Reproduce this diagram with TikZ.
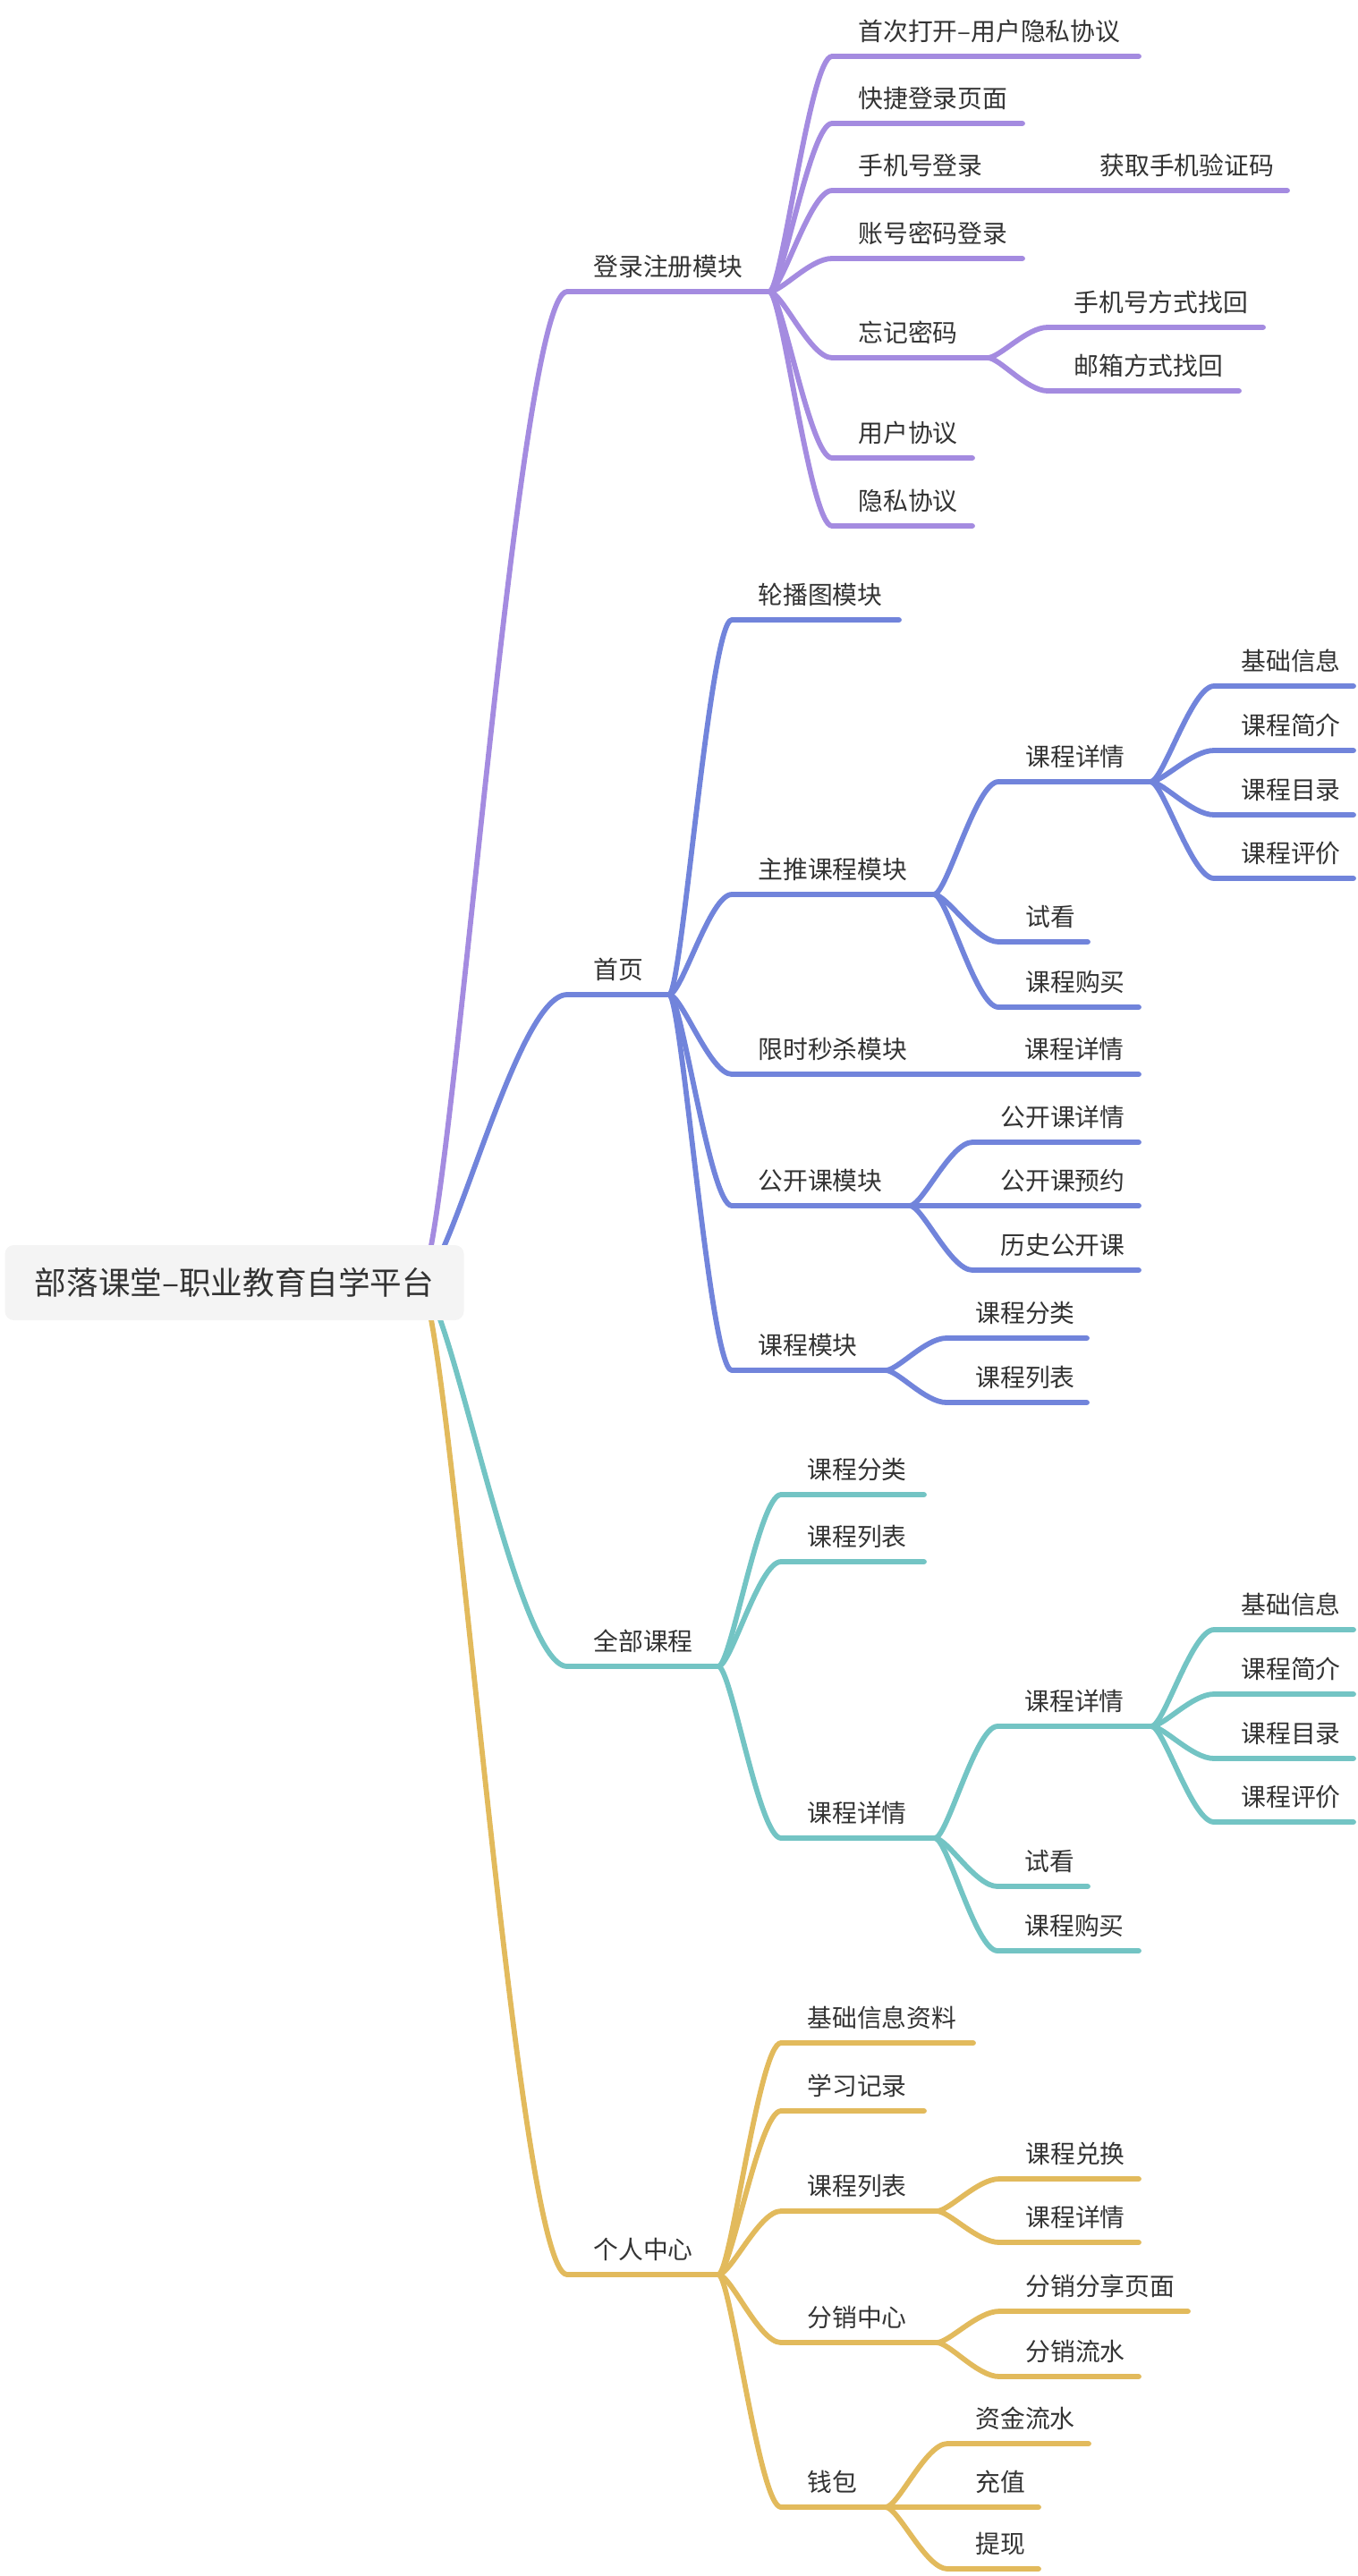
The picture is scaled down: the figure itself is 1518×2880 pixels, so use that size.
\documentclass[tikz,border=0pt]{standalone}
\usepackage{fontspec}
\setmainfont{Noto Sans CJK SC}
\usetikzlibrary{calc,backgrounds}
\definecolor{cpur}{HTML}{A48BE0}
\definecolor{cblu}{HTML}{7184DB}
\definecolor{ctea}{HTML}{73C4C4}
\definecolor{cgol}{HTML}{E2BA5C}
\definecolor{ctxt}{HTML}{333333}
\definecolor{cbox}{HTML}{F4F4F4}
\newcommand\MN[6]{%
  \coordinate (#1S) at (#2,#4);
  \coordinate (#1E) at (#3,#4);
  \node[lbl] (#1) at (#5,#4-28) {#6};}
\begin{document}
\begin{tikzpicture}[x=0.5pt,y=-0.5pt,
  lbl/.style={anchor=west,inner sep=0pt,text=ctxt,font=\fontsize{13.9pt}{16pt}\selectfont},
  rootbox/.style={fill=cbox,rounded corners=5pt,minimum width=256.5pt,minimum height=42pt,inner sep=0pt,text=ctxt,font=\fontsize{17.8pt}{20pt}\selectfont},
  br/.style={to path={.. controls ($(\tikztostart)!0.2!(\tikztotarget|-\tikztostart)$) and ($(\tikztostart|-\tikztotarget)!0.65!(\tikztotarget)$) .. (\tikztotarget)}},
  conn/.style={line width=2.9pt,line cap=round,line join=round},
  pur/.style={conn,draw=cpur},
  blu/.style={conn,draw=cblu},
  tea/.style={conn,draw=ctea},
  gol/.style={conn,draw=cgol}]
\useasboundingbox (0,0) rectangle (1518,2880);
\node[rootbox] (root) at (262,1434) {部落课堂–职业教育自学平台};
\coordinate (rootC) at ([xshift=-25pt]root.east);
% level 1
\MN{A}{634}{860}{326}{663}{登录注册模块}
\MN{B}{634}{748}{1112}{663}{首页}
\MN{C}{634}{803}{1863}{663}{全部课程}
\MN{D}{634}{803}{2543}{663}{个人中心}
% purple
\MN{A1}{930}{1273}{63}{959}{首次打开–用户隐私协议}
\MN{A2}{930}{1143}{138}{959}{快捷登录页面}
\MN{A3}{930}{1116}{213}{959}{手机号登录}
\MN{A31}{1186}{1439}{213}{1229}{获取手机验证码}
\MN{A4}{930}{1143}{289}{959}{账号密码登录}
\MN{A5}{930}{1104}{400}{959}{忘记密码}
\MN{A51}{1171}{1412}{366}{1200}{手机号方式找回}
\MN{A52}{1171}{1385}{437}{1200}{邮箱方式找回}
\MN{A6}{930}{1087}{512}{959}{用户协议}
\MN{A7}{930}{1087}{588}{959}{隐私协议}
% blue
\MN{B1}{818}{1005}{693}{847}{轮播图模块}
\MN{B2}{818}{1044}{1000}{847}{主推课程模块}
\MN{B21}{1116}{1286}{874}{1146}{课程详情}
\MN{B211}{1357}{1513}{767}{1387}{基础信息}
\MN{B212}{1357}{1513}{839}{1387}{课程简介}
\MN{B213}{1357}{1513}{911}{1387}{课程目录}
\MN{B214}{1357}{1513}{982}{1387}{课程评价}
\MN{B22}{1116}{1216}{1053}{1146}{试看}
\MN{B23}{1116}{1273}{1126}{1146}{课程购买}
\MN{B3}{818}{1033}{1201}{847}{限时秒杀模块}
\MN{B31}{1103}{1273}{1201}{1145}{课程详情}
\MN{B4}{818}{1017}{1348}{847}{公开课模块}
\MN{B41}{1087}{1273}{1277}{1118}{公开课详情}
\MN{B42}{1087}{1273}{1348}{1118}{公开课预约}
\MN{B43}{1087}{1273}{1420}{1118}{历史公开课}
\MN{B5}{818}{990}{1532}{847}{课程模块}
\MN{B51}{1058}{1215}{1496}{1090}{课程分类}
\MN{B52}{1058}{1215}{1568}{1090}{课程列表}
% teal
\MN{C1}{873}{1033}{1671}{902}{课程分类}
\MN{C2}{873}{1033}{1746}{902}{课程列表}
\MN{C3}{873}{1045}{2055}{902}{课程详情}
\MN{C31}{1115}{1287}{1930}{1145}{课程详情}
\MN{C311}{1357}{1513}{1822}{1387}{基础信息}
\MN{C312}{1357}{1513}{1894}{1387}{课程简介}
\MN{C313}{1357}{1513}{1966}{1387}{课程目录}
\MN{C314}{1357}{1513}{2037}{1387}{课程评价}
\MN{C32}{1115}{1216}{2109}{1145}{试看}
\MN{C33}{1115}{1273}{2181}{1145}{课程购买}
% gold
\MN{D1}{873}{1088}{2284}{902}{基础信息资料}
\MN{D2}{873}{1033}{2360}{902}{学习记录}
\MN{D3}{873}{1047}{2472}{902}{课程列表}
\MN{D31}{1117}{1273}{2436}{1146}{课程兑换}
\MN{D32}{1117}{1273}{2507}{1146}{课程详情}
\MN{D4}{873}{1047}{2619}{902}{分销中心}
\MN{D41}{1117}{1328}{2584}{1146}{分销分享页面}
\MN{D42}{1117}{1273}{2657}{1146}{分销流水}
\MN{D5}{873}{990}{2803}{902}{钱包}
\MN{D51}{1059}{1217}{2732}{1090}{资金流水}
\MN{D52}{1059}{1161}{2803}{1090}{充值}
\MN{D53}{1059}{1161}{2872}{1090}{提现}
\begin{scope}[on background layer]
\draw[pur] (rootC) to[br] (AS) -- (AE);
\draw[blu] (rootC) to[br] (BS) -- (BE);
\draw[tea] (rootC) to[br] (CS) -- (CE);
\draw[gol] (rootC) to[br] (DS) -- (DE);
\foreach \q in {A1,A2,A3,A4,A5,A6,A7} \draw[pur] (AE) to[br] (\q S) -- (\q E);
\draw[pur] (A3E) to[br] (A31S) -- (A31E);
\foreach \q in {A51,A52} \draw[pur] (A5E) to[br] (\q S) -- (\q E);
\foreach \q in {B1,B2,B3,B4,B5} \draw[blu] (BE) to[br] (\q S) -- (\q E);
\foreach \q in {B21,B22,B23} \draw[blu] (B2E) to[br] (\q S) -- (\q E);
\foreach \q in {B211,B212,B213,B214} \draw[blu] (B21E) to[br] (\q S) -- (\q E);
\draw[blu] (B3E) to[br] (B31S) -- (B31E);
\foreach \q in {B41,B42,B43} \draw[blu] (B4E) to[br] (\q S) -- (\q E);
\foreach \q in {B51,B52} \draw[blu] (B5E) to[br] (\q S) -- (\q E);
\foreach \q in {C1,C2,C3} \draw[tea] (CE) to[br] (\q S) -- (\q E);
\foreach \q in {C31,C32,C33} \draw[tea] (C3E) to[br] (\q S) -- (\q E);
\foreach \q in {C311,C312,C313,C314} \draw[tea] (C31E) to[br] (\q S) -- (\q E);
\foreach \q in {D1,D2,D3,D4,D5} \draw[gol] (DE) to[br] (\q S) -- (\q E);
\foreach \q in {D31,D32} \draw[gol] (D3E) to[br] (\q S) -- (\q E);
\foreach \q in {D41,D42} \draw[gol] (D4E) to[br] (\q S) -- (\q E);
\foreach \q in {D51,D52,D53} \draw[gol] (D5E) to[br] (\q S) -- (\q E);
\end{scope}
\end{tikzpicture}
\end{document}
